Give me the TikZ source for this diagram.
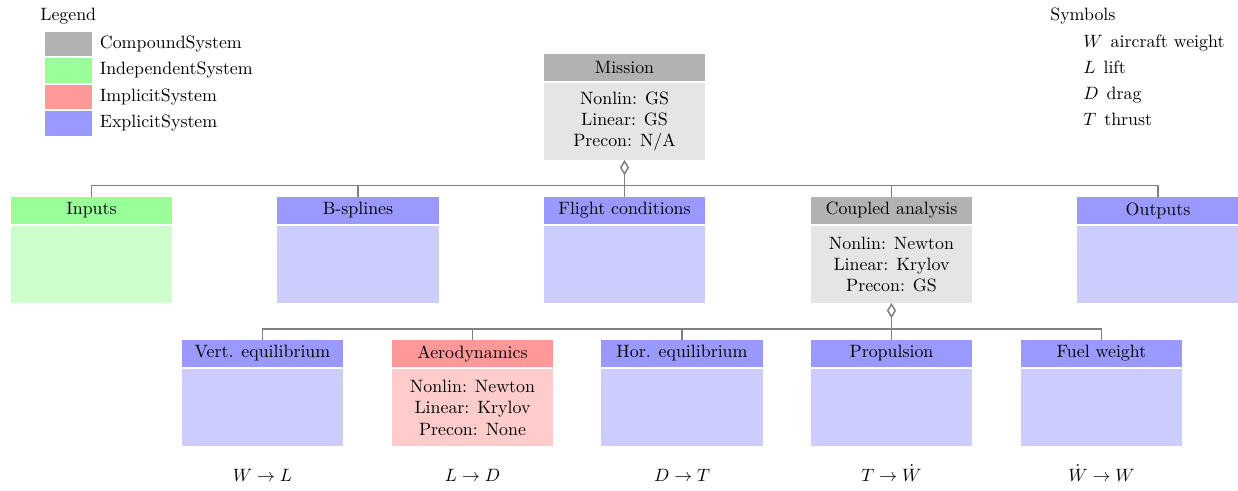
\documentclass[tikz,border=0pt]{standalone}
\usetikzlibrary{arrows.meta}
\def\pxu{0.56pt}
\colorlet{cmpdH}{black!30}
\colorlet{cmpdB}{black!10}
\colorlet{indH}{green!40}
\colorlet{indB}{green!20}
\colorlet{impH}{red!40}
\colorlet{impB}{red!20}
\colorlet{expH}{blue!40}
\colorlet{expB}{blue!20}
\tikzset{x=0.56pt,y=-0.56pt,
 hdr/.style={minimum width=161.5*\pxu, minimum height=27*\pxu, inner sep=0pt, outer sep=0pt},
 bdy/.style={minimum width=161.5*\pxu, minimum height=77*\pxu, inner sep=0pt, outer sep=0pt, align=center},
 conn/.style={draw=gray, line width=0.85pt},
 agg/.style={conn, -{Diamond[open,length=8.5pt,width=5.2pt]}},
 swatch/.style={minimum width=47*\pxu, minimum height=24.5*\pxu, inner sep=0pt, outer sep=0pt},
 lbl/.style={anchor=base west, inner sep=0pt},
 rel/.style={anchor=base, inner sep=0pt},
}
\newcommand\sysbox[6]{%
 \node[hdr, fill=#4H] (#1-h) at (#2,#3+13.5) {#5};
 \node[bdy, fill=#4B] (#1-b) at (#2,#3+29+38.5) {#6};
}
\begin{document}
\begin{tikzpicture}
\useasboundingbox (0,0) rectangle (1238,491);
% legend
\node[lbl] (legtitle) at (40,20.5) {Legend};
\node[swatch, fill=cmpdH] (sw1) at (68.5,44) {};
\node[swatch, fill=indH] (sw2) at (68.5,70.5) {};
\node[swatch, fill=impH] (sw3) at (68.5,97) {};
\node[swatch, fill=expH] (sw4) at (68.5,123.5) {};
\node[lbl] (lt1) at (99.5,48.5) {CompoundSystem};
\node[lbl] (lt2) at (99.5,75) {IndependentSystem};
\node[lbl] (lt3) at (99.5,101.5) {ImplicitSystem};
\node[lbl] (lt4) at (99.5,128) {ExplicitSystem};
% symbols
\node[lbl] (symtitle) at (1050,20.5) {Symbols};
\node[lbl] (s1) at (1083,47.7) {$W$\hskip4.5pt aircraft weight};
\node[lbl] (s2) at (1083,73.8) {$L$\hskip4.5pt lift};
\node[lbl] (s3) at (1083,99.5) {$D$\hskip4.5pt drag};
\node[lbl] (s4) at (1083,125.6) {$T$\hskip4.5pt thrust};
% boxes
\sysbox{mission}{624.5}{54}{cmpd}{Mission}{Nonlin: GS\\Linear: GS\\Precon: N/A}
\sysbox{inputs}{91.5}{197}{ind}{Inputs}{}
\sysbox{bspl}{358}{197}{exp}{B-splines}{}
\sysbox{flight}{624.5}{197}{exp}{Flight conditions}{}
\sysbox{coupled}{891.5}{197}{cmpd}{Coupled analysis}{Nonlin: Newton\\Linear: Krylov\\Precon: GS}
\sysbox{outputs}{1158}{197}{exp}{Outputs}{}
\sysbox{vert}{262.5}{340}{exp}{Vert. equilibrium}{}
\sysbox{aero}{472.5}{340}{imp}{Aerodynamics}{Nonlin: Newton\\Linear: Krylov\\Precon: None}
\sysbox{hor}{682}{340}{exp}{Hor. equilibrium}{}
\sysbox{prop}{891.5}{340}{exp}{Propulsion}{}
\sysbox{fuel}{1101.5}{340}{exp}{Fuel weight}{}
% connectors
\coordinate (busM) at (624.5,185.5);
\coordinate (busC) at (891.5,329);
\foreach \n in {inputs,bspl,flight,coupled,outputs}
  \draw[conn] (\n-h.north) |- (busM);
\draw[agg] (busM) -- (mission-b.south);
\foreach \n in {vert,aero,hor,prop,fuel}
  \draw[conn] (\n-h.north) |- (busC);
\draw[agg] (busC) -- (coupled-b.south);
% relations
\node[rel] (r1) at (262.5,481.5) {$W \rightarrow L$};
\node[rel] (r2) at (472.5,481.5) {$L \rightarrow D$};
\node[rel] (r3) at (682,481.5) {$D \rightarrow T$};
\node[rel] (r4) at (891.5,481.5) {$T \rightarrow \dot{W}$};
\node[rel] (r5) at (1101.5,481.5) {$\dot{W} \rightarrow W$};
\end{tikzpicture}
\end{document}
